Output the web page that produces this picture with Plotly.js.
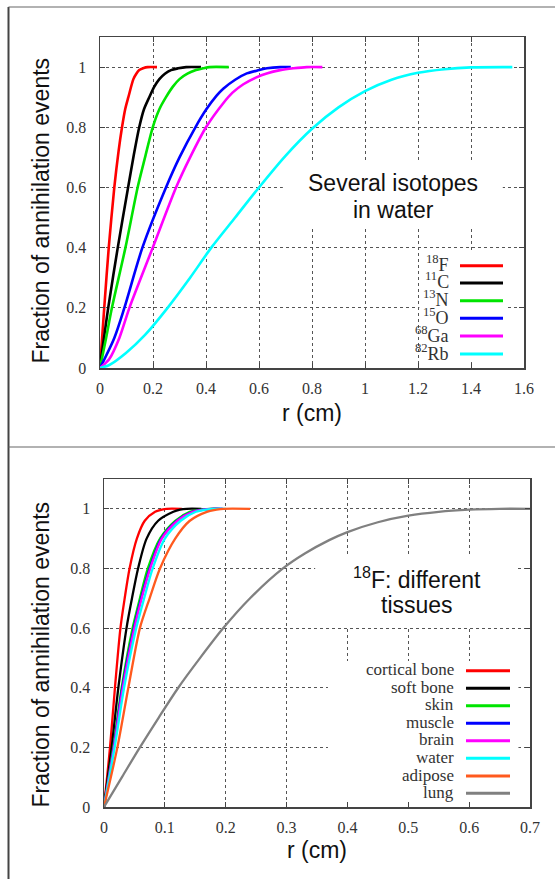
<!DOCTYPE html>
<html>
<head>
<meta charset="utf-8">
<script src="https://cdn.plot.ly/plotly-3.0.1.min.js"></script>
<style>html,body{margin:0;padding:0;background:#fff;}#chart{width:555px;height:879px;}</style>
</head>
<body>
<div id="chart"></div>
<script>
// ---------- Top panel: several isotopes in water ----------
const isoNames = ["<sup>18</sup>F", "<sup>11</sup>C", "<sup>13</sup>N", "<sup>15</sup>O", "<sup>68</sup>Ga", "<sup>82</sup>Rb"];
const isoColors = ["#ff0000", "#000000", "#00e400", "#0000ff", "#ff00ff", "#00ffff"];

const r_F18 = [0, 0.008, 0.016, 0.033, 0.054, 0.070, 0.083, 0.095, 0.107, 0.126, 0.137, 0.148, 0.165, 0.18, 0.215];
const v_F18 = [0, 0.1, 0.2, 0.4, 0.6, 0.72, 0.8, 0.86, 0.9, 0.96, 0.978, 0.99, 0.997, 1.0, 1.0];
const r_C11 = [0, 0.015, 0.031, 0.067, 0.106, 0.128, 0.148, 0.166, 0.186, 0.205, 0.224, 0.245, 0.268, 0.295, 0.325, 0.381];
const v_C11 = [0, 0.1, 0.2, 0.4, 0.6, 0.71, 0.8, 0.86, 0.9, 0.935, 0.96, 0.978, 0.99, 0.996, 1.0, 1.0];
const r_N13 = [0, 0.023, 0.045, 0.096, 0.142, 0.170, 0.199, 0.224, 0.249, 0.275, 0.30, 0.33, 0.362, 0.39, 0.413, 0.486];
const v_N13 = [0, 0.1, 0.2, 0.4, 0.6, 0.7, 0.8, 0.86, 0.9, 0.935, 0.96, 0.978, 0.99, 0.996, 1.0, 1.0];
const r_O15 = [0, 0.054, 0.092, 0.16, 0.249, 0.30, 0.36, 0.40, 0.44, 0.465, 0.51, 0.554, 0.60, 0.63, 0.68, 0.72];
const v_O15 = [0, 0.1, 0.2, 0.4, 0.6, 0.7, 0.8, 0.858, 0.905, 0.928, 0.958, 0.979, 0.99, 0.996, 1.0, 1.0];
const r_Ga68 = [0, 0.035, 0.073, 0.111, 0.199, 0.287, 0.34, 0.40, 0.465, 0.50, 0.541, 0.59, 0.629, 0.68, 0.73, 0.78, 0.839];
const v_Ga68 = [0, 0.03, 0.1, 0.2, 0.4, 0.6, 0.7, 0.8, 0.88, 0.915, 0.943, 0.966, 0.979, 0.99, 0.996, 1.0, 1.0];
const r_Rb82 = [0, 0.035, 0.098, 0.17, 0.255, 0.34, 0.42, 0.51, 0.60, 0.70, 0.80, 0.90, 1.0, 1.1, 1.2, 1.3, 1.4, 1.556];
const v_Rb82 = [0, 0.01, 0.05, 0.11, 0.2, 0.3, 0.4, 0.5, 0.6, 0.705, 0.795, 0.866, 0.92, 0.958, 0.981, 0.993, 0.999, 1.0];

// ---------- Bottom panel: 18F in different tissues ----------
const tisNames = ["cortical bone", "soft bone", "skin", "muscle", "brain", "water", "adipose", "lung"];
const tisColors = ["#ff0000", "#000000", "#00e400", "#0000ff", "#ff00ff", "#00ffff", "#ff5a1e", "#808080"];

const v_tis = [0, 0.2, 0.4, 0.6, 0.7, 0.8, 0.9, 0.96, 0.99, 0.997, 1.0, 1.0];
const r_cortical = [0, 0.0099, 0.018, 0.027, 0.034, 0.042, 0.054, 0.067, 0.084, 0.095, 0.103, 0.128];
const r_softbone = [0, 0.0126, 0.0236, 0.037, 0.046, 0.056, 0.070, 0.089, 0.114, 0.125, 0.136, 0.160];
const r_skin     = [0, 0.0153, 0.029, 0.047, 0.059, 0.072, 0.092, 0.117, 0.141, 0.160, 0.175, 0.190];
const r_muscle   = [0, 0.016, 0.030, 0.049, 0.061, 0.075, 0.094, 0.120, 0.145, 0.163, 0.178, 0.195];
const r_brain    = [0, 0.0164, 0.031, 0.050, 0.062, 0.076, 0.095, 0.121, 0.146, 0.165, 0.180, 0.195];
const r_water    = [0, 0.0175, 0.033, 0.053, 0.066, 0.080, 0.100, 0.126, 0.151, 0.168, 0.182, 0.200];
const r_adipose  = [0, 0.022, 0.040, 0.059, 0.075, 0.092, 0.117, 0.141, 0.169, 0.185, 0.196, 0.240];
const r_lung = [0, 0.03, 0.059, 0.09, 0.122, 0.158, 0.196, 0.24, 0.294, 0.33, 0.37, 0.4, 0.45, 0.5, 0.55, 0.6, 0.65, 0.7];
const v_lung = [0, 0.102, 0.2, 0.3, 0.4, 0.5, 0.6, 0.70, 0.8, 0.85, 0.895, 0.922, 0.955, 0.977, 0.99, 0.997, 1.0, 1.0];

// ---------- Ticks / labels ----------
const topXTicks = [0, 0.2, 0.4, 0.6, 0.8, 1, 1.2, 1.4, 1.6];
const topXLabels = ["0", "0.2", "0.4", "0.6", "0.8", "1", "1.2", "1.4", "1.6"];
const botXTicks = [0, 0.1, 0.2, 0.3, 0.4, 0.5, 0.6, 0.7];
const botXLabels = ["0", "0.1", "0.2", "0.3", "0.4", "0.5", "0.6", "0.7"];
const yTicks = [0, 0.2, 0.4, 0.6, 0.8, 1];
const yLabels = ["0", "0.2", "0.4", "0.6", "0.8", "1"];

const xTitle = "r (cm)";
const yTitle = "Fraction of annihilation events";
const topNote = ["Several isotopes", "in water"];
const botNote = ["<sup>18</sup>F: different", "tissues"];

// ---------- Build ----------
const W = 555, H = 879;
const px = x => x / W;
const py = y => 1 - y / H;

const isoR = [r_F18, r_C11, r_N13, r_O15, r_Ga68, r_Rb82];
const isoV = [v_F18, v_C11, v_N13, v_O15, v_Ga68, v_Rb82];
const tisR = [r_cortical, r_softbone, r_skin, r_muscle, r_brain, r_water, r_adipose, r_lung];
const tisV = [v_tis, v_tis, v_tis, v_tis, v_tis, v_tis, v_tis, v_lung];

const traces = [];
isoR.forEach((r, i) => traces.push({
  type: "scatter", mode: "lines", x: r, y: isoV[i], xaxis: "x", yaxis: "y",
  line: {color: isoColors[i], width: 2.6, shape: "spline", smoothing: 0.8}, showlegend: false, hoverinfo: "skip"
}));
tisR.forEach((r, i) => traces.push({
  type: "scatter", mode: "lines", x: r, y: tisV[i], xaxis: "x2", yaxis: "y2",
  line: {color: tisColors[i], width: 2.3, shape: "spline", smoothing: 0.8}, showlegend: false, hoverinfo: "skip"
}));

const SERIF = "Liberation Serif";
const SANS = "Liberation Sans";
const tickFont = {family: SERIF, size: 16, color: "#333"};
const titleFont = {family: SANS, size: 23, color: "#111"};
function axis(extra) {
  return Object.assign({
    showgrid: true, gridcolor: "#555", griddash: "dot", gridwidth: 1,
    showline: true, mirror: "ticks", linecolor: "#444", linewidth: 1.5,
    ticks: "inside", ticklen: 5, tickcolor: "#444", tickwidth: 1,
    zeroline: false, tickfont: tickFont, fixedrange: true
  }, extra);
}

const layout = {
  width: W, height: H, autosize: false,
  margin: {l: 0, r: 0, t: 0, b: 0},
  paper_bgcolor: "#fff", plot_bgcolor: "#fff",
  font: {family: SERIF, size: 16, color: "#333"},
  showlegend: false,
  xaxis: axis({domain: [px(100), px(524)], range: [0, 1.6], tickmode: "array", tickvals: topXTicks, ticktext: topXLabels,
    anchor: "y", ticklabelstandoff: 5, title: {text: xTitle, font: titleFont, standoff: 9}}),
  yaxis: axis({domain: [py(368), py(37)], range: [0, 1.1], tickmode: "array", tickvals: yTicks, ticktext: yLabels,
    anchor: "x", ticklabelstandoff: 9}),
  xaxis2: axis({domain: [px(104), px(530)], range: [0, 0.7], tickmode: "array", tickvals: botXTicks, ticktext: botXLabels,
    anchor: "y2", ticklabelstandoff: 5, title: {text: xTitle, font: titleFont, standoff: 7}}),
  yaxis2: axis({domain: [py(807), py(479)], range: [0, 1.1], tickmode: "array", tickvals: yTicks, ticktext: yLabels,
    anchor: "x2", ticklabelstandoff: 9}),
  shapes: [],
  annotations: []
};

// y-axis titles (placed like the original, slightly below the plot centre)
[[40.5, 211], [40.5, 655]].forEach(([x, y]) => {
  layout.annotations.push({text: yTitle, xref: "paper", yref: "paper", x: px(x), y: py(y), xanchor: "center", yanchor: "middle", textangle: -90, showarrow: false, font: titleFont});
});

// frame lines
layout.shapes.push({type: "line", xref: "paper", yref: "paper", x0: px(8.5), x1: px(8.5), y0: py(7), y1: 0, line: {color: "#444", width: 2}});
layout.shapes.push({type: "line", xref: "paper", yref: "paper", x0: px(8.5), x1: 1, y0: py(7), y1: py(7), line: {color: "#666", width: 1.2}});
layout.shapes.push({type: "line", xref: "paper", yref: "paper", x0: px(8.5), x1: 1, y0: py(447), y1: py(447), line: {color: "#666", width: 1.2}});

// opaque boxes behind the note text and the keys (hide grid only)
const blank = (xr, yr, x0, x1, y0, y1) => ({type: "rect", xref: xr, yref: yr, x0, x1, y0, y1, fillcolor: "#fff", line: {width: 0}, layer: "between"});
layout.shapes.push(blank("x", "y", 0.69, 1.52, 0.465, 0.69));
layout.shapes.push(blank("x", "y", 1.205, 1.53, 0.02, 0.39));
layout.shapes.push(blank("x2", "y2", 0.347, 0.678, 0.605, 0.84));
layout.shapes.push(blank("x2", "y2", 0.368, 0.681, 0.017, 0.49));

// note text
const noteFont = {family: SANS, size: 23, color: "#111"};
[[topNote[0], 393, 183], [topNote[1], 393, 210], [botNote[0], 417, 578], [botNote[1], 417, 605]].forEach(([t, x, y]) => {
  layout.annotations.push({text: t, xref: "paper", yref: "paper", x: px(x), y: py(y), xanchor: "center", yanchor: "middle", showarrow: false, font: noteFont});
});

// keys
const keyFont = {family: SERIF, size: 18, color: "#333"};
const topRows = [265.7, 283, 300.7, 318.3, 336, 354];
isoNames.forEach((n, i) => {
  layout.annotations.push({text: n, xref: "paper", yref: "paper", x: px(451), y: py(topRows[i] - 2), xanchor: "right", yanchor: "middle", showarrow: false, font: keyFont});
  layout.shapes.push({type: "line", xref: "paper", yref: "paper", x0: px(460), x1: px(503), y0: py(topRows[i]), y1: py(topRows[i]), line: {color: isoColors[i], width: 3}});
});
const botRows = [670.7, 688.3, 705.7, 723.3, 740.7, 758.3, 776, 793.3];
tisNames.forEach((n, i) => {
  layout.annotations.push({text: n, xref: "paper", yref: "paper", x: px(456), y: py(botRows[i] - 1), xanchor: "right", yanchor: "middle", showarrow: false, font: {family: SERIF, size: 17, color: "#333"}});
  layout.shapes.push({type: "line", xref: "paper", yref: "paper", x0: px(466), x1: px(510), y0: py(botRows[i]), y1: py(botRows[i]), line: {color: tisColors[i], width: 3}});
});

Plotly.newPlot("chart", traces, layout, {staticPlot: true, displayModeBar: false});
</script>
</body>
</html>
